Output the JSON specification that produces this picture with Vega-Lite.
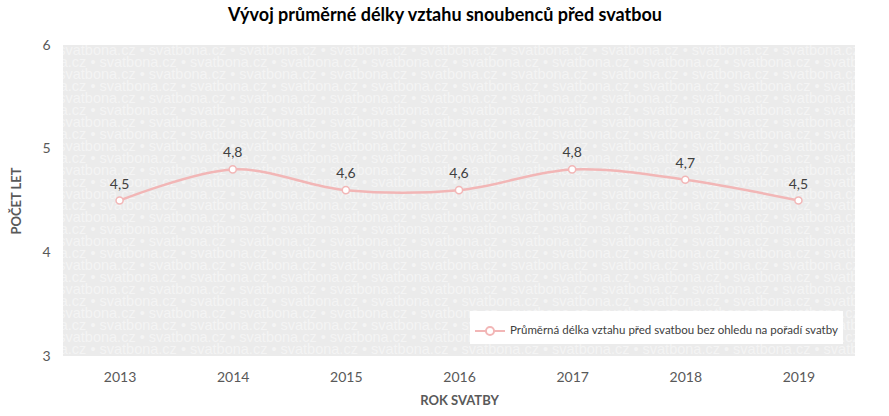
{
  "$schema": "https://vega.github.io/schema/vega-lite/v6.json",
  "width": 792,
  "height": 311,
  "autosize": {"type": "none"},
  "padding": {"left": 63, "top": 45, "right": 34, "bottom": 60},
  "background": "white",
  "config": {
    "font": "Lato",
    "view": {"stroke": null, "fill": "#ebebeb"},
    "locale": {"number": {"decimal": ",", "thousands": " ", "grouping": [3], "currency": ["", " Kč"]}}
  },
  "title": {
    "text": "Vývoj průměrné délky vztahu snoubenců před svatbou",
    "fontSize": 18,
    "fontWeight": "bold",
    "color": "#000000",
    "anchor": "middle",
    "offset": 13,
    "dx": -14
  },
  "datasets": {
    "wm": [
      {"row": 1, "t": "svatbona.cz • svatbona.cz • svatbona.cz • svatbona.cz • svatbona.cz • svatbona.cz • svatbona.cz • svatbona.cz • svatbona.cz • svatbona.cz • svatbona.cz"},
      {"row": 2, "t": "na.cz • svatbona.cz • svatbona.cz • svatbona.cz • svatbona.cz • svatbona.cz • svatbona.cz • svatbona.cz • svatbona.cz • svatbona.cz • svatbona.cz • svatbo"},
      {"row": 3, "t": "svatbona.cz • svatbona.cz • svatbona.cz • svatbona.cz • svatbona.cz • svatbona.cz • svatbona.cz • svatbona.cz • svatbona.cz • svatbona.cz • svatbona.cz"},
      {"row": 4, "t": "na.cz • svatbona.cz • svatbona.cz • svatbona.cz • svatbona.cz • svatbona.cz • svatbona.cz • svatbona.cz • svatbona.cz • svatbona.cz • svatbona.cz • svatbo"},
      {"row": 5, "t": "svatbona.cz • svatbona.cz • svatbona.cz • svatbona.cz • svatbona.cz • svatbona.cz • svatbona.cz • svatbona.cz • svatbona.cz • svatbona.cz • svatbona.cz"},
      {"row": 6, "t": "na.cz • svatbona.cz • svatbona.cz • svatbona.cz • svatbona.cz • svatbona.cz • svatbona.cz • svatbona.cz • svatbona.cz • svatbona.cz • svatbona.cz • svatbo"},
      {"row": 7, "t": "svatbona.cz • svatbona.cz • svatbona.cz • svatbona.cz • svatbona.cz • svatbona.cz • svatbona.cz • svatbona.cz • svatbona.cz • svatbona.cz • svatbona.cz"},
      {"row": 8, "t": "na.cz • svatbona.cz • svatbona.cz • svatbona.cz • svatbona.cz • svatbona.cz • svatbona.cz • svatbona.cz • svatbona.cz • svatbona.cz • svatbona.cz • svatbo"},
      {"row": 9, "t": "svatbona.cz • svatbona.cz • svatbona.cz • svatbona.cz • svatbona.cz • svatbona.cz • svatbona.cz • svatbona.cz • svatbona.cz • svatbona.cz • svatbona.cz"},
      {"row": 10, "t": "na.cz • svatbona.cz • svatbona.cz • svatbona.cz • svatbona.cz • svatbona.cz • svatbona.cz • svatbona.cz • svatbona.cz • svatbona.cz • svatbona.cz • svatbo"},
      {"row": 11, "t": "svatbona.cz • svatbona.cz • svatbona.cz • svatbona.cz • svatbona.cz • svatbona.cz • svatbona.cz • svatbona.cz • svatbona.cz • svatbona.cz • svatbona.cz"},
      {"row": 12, "t": "na.cz • svatbona.cz • svatbona.cz • svatbona.cz • svatbona.cz • svatbona.cz • svatbona.cz • svatbona.cz • svatbona.cz • svatbona.cz • svatbona.cz • svatbo"},
      {"row": 13, "t": "svatbona.cz • svatbona.cz • svatbona.cz • svatbona.cz • svatbona.cz • svatbona.cz • svatbona.cz • svatbona.cz • svatbona.cz • svatbona.cz • svatbona.cz"},
      {"row": 14, "t": "na.cz • svatbona.cz • svatbona.cz • svatbona.cz • svatbona.cz • svatbona.cz • svatbona.cz • svatbona.cz • svatbona.cz • svatbona.cz • svatbona.cz • svatbo"},
      {"row": 15, "t": "svatbona.cz • svatbona.cz • svatbona.cz • svatbona.cz • svatbona.cz • svatbona.cz • svatbona.cz • svatbona.cz • svatbona.cz • svatbona.cz • svatbona.cz"},
      {"row": 16, "t": "na.cz • svatbona.cz • svatbona.cz • svatbona.cz • svatbona.cz • svatbona.cz • svatbona.cz • svatbona.cz • svatbona.cz • svatbona.cz • svatbona.cz • svatbo"},
      {"row": 17, "t": "svatbona.cz • svatbona.cz • svatbona.cz • svatbona.cz • svatbona.cz • svatbona.cz • svatbona.cz • svatbona.cz • svatbona.cz • svatbona.cz • svatbona.cz"},
      {"row": 18, "t": "na.cz • svatbona.cz • svatbona.cz • svatbona.cz • svatbona.cz • svatbona.cz • svatbona.cz • svatbona.cz • svatbona.cz • svatbona.cz • svatbona.cz • svatbo"},
      {"row": 19, "t": "svatbona.cz • svatbona.cz • svatbona.cz • svatbona.cz • svatbona.cz • svatbona.cz • svatbona.cz • svatbona.cz • svatbona.cz • svatbona.cz • svatbona.cz"},
      {"row": 20, "t": "na.cz • svatbona.cz • svatbona.cz • svatbona.cz • svatbona.cz • svatbona.cz • svatbona.cz • svatbona.cz • svatbona.cz • svatbona.cz • svatbona.cz • svatbo"},
      {"row": 21, "t": "svatbona.cz • svatbona.cz • svatbona.cz • svatbona.cz • svatbona.cz • svatbona.cz • svatbona.cz • svatbona.cz • svatbona.cz • svatbona.cz • svatbona.cz"},
      {"row": 22, "t": "na.cz • svatbona.cz • svatbona.cz • svatbona.cz • svatbona.cz • svatbona.cz • svatbona.cz • svatbona.cz • svatbona.cz • svatbona.cz • svatbona.cz • svatbo"},
      {"row": 23, "t": "svatbona.cz • svatbona.cz • svatbona.cz • svatbona.cz • svatbona.cz • svatbona.cz • svatbona.cz • svatbona.cz • svatbona.cz • svatbona.cz • svatbona.cz"},
      {"row": 24, "t": "na.cz • svatbona.cz • svatbona.cz • svatbona.cz • svatbona.cz • svatbona.cz • svatbona.cz • svatbona.cz • svatbona.cz • svatbona.cz • svatbona.cz • svatbo"},
      {"row": 25, "t": "svatbona.cz • svatbona.cz • svatbona.cz • svatbona.cz • svatbona.cz • svatbona.cz • svatbona.cz • svatbona.cz • svatbona.cz • svatbona.cz • svatbona.cz"},
      {"row": 26, "t": "na.cz • svatbona.cz • svatbona.cz • svatbona.cz • svatbona.cz • svatbona.cz • svatbona.cz • svatbona.cz • svatbona.cz • svatbona.cz • svatbona.cz • svatbo"}
    ],
    "main": [
      {"rok": "2013", "let": 4.5, "serie": "Průměrná délka vztahu před svatbou bez ohledu na pořadí svatby"},
      {"rok": "2014", "let": 4.8, "serie": "Průměrná délka vztahu před svatbou bez ohledu na pořadí svatby"},
      {"rok": "2015", "let": 4.6, "serie": "Průměrná délka vztahu před svatbou bez ohledu na pořadí svatby"},
      {"rok": "2016", "let": 4.6, "serie": "Průměrná délka vztahu před svatbou bez ohledu na pořadí svatby"},
      {"rok": "2017", "let": 4.8, "serie": "Průměrná délka vztahu před svatbou bez ohledu na pořadí svatby"},
      {"rok": "2018", "let": 4.7, "serie": "Průměrná délka vztahu před svatbou bez ohledu na pořadí svatby"},
      {"rok": "2019", "let": 4.5, "serie": "Průměrná délka vztahu před svatbou bez ohledu na pořadí svatby"}
    ]
  },
  "resolve": {"scale": {"y": "independent"}},
  "layer": [
    {
      "data": {"name": "wm"},
      "mark": {"type": "text", "clip": true, "font": "Liberation Sans", "fontSize": 14.5, "color": "#f4f4f4", "align": "center", "baseline": "middle"},
      "encoding": {
        "y": {"field": "row", "type": "ordinal", "axis": null, "scale": {"paddingInner": 0, "paddingOuter": 0}},
        "text": {"field": "t"}
      }
    },
    {
      "data": {"name": "main"},
      "encoding": {
        "x": {
          "field": "rok",
          "type": "ordinal",
          "scale": {"type": "point", "padding": 0.5},
          "axis": {
            "title": "ROK SVATBY",
            "labelAngle": 0,
            "labelFontSize": 14,
            "labelColor": "#595959",
            "labelPadding": 14,
            "ticks": false,
            "domain": false,
            "grid": false,
            "titleFontSize": 13,
            "titleFontWeight": "bold",
            "titleColor": "#595959",
            "titlePadding": 10
          }
        },
        "y": {
          "field": "let",
          "type": "quantitative",
          "scale": {"domain": [3, 6], "nice": false, "zero": false},
          "axis": {
            "title": "POČET LET",
            "values": [3, 4, 5, 6],
            "format": "d",
            "labelFontSize": 14,
            "labelColor": "#595959",
            "labelPadding": 13,
            "ticks": false,
            "domain": false,
            "grid": false,
            "titleFontSize": 13,
            "titleFontWeight": "bold",
            "titleColor": "#595959",
            "titlePadding": 18
          }
        }
      },
      "layer": [
        {
          "mark": {"type": "line", "interpolate": "catmull-rom", "strokeWidth": 2.5},
          "encoding": {
            "color": {
              "field": "serie",
              "type": "nominal",
              "scale": {"range": ["#f2b6b6"]},
              "legend": {
                "title": null,
                "orient": "bottom-right",
                "offset": 12,
                "fillColor": "white",
                "padding": 4,
                "labelFontSize": 11.5,
                "labelColor": "#404040",
                "labelLimit": 500,
                "symbolType": "M-1,0H-0.27M0.27,0H1M0.27,0A0.27,0.27 0 1,1 -0.27,0A0.27,0.27 0 1,1 0.27,0Z",
                "symbolSize": 900,
                "symbolStrokeWidth": 2,
                "symbolStrokeColor": "#f2b6b6",
                "symbolFillColor": "white"
              }
            }
          }
        },
        {
          "mark": {"type": "point", "filled": true, "fill": "white", "stroke": "#f2b6b6", "strokeWidth": 1.5, "size": 50, "opacity": 1}
        },
        {
          "mark": {"type": "text", "fontSize": 14, "color": "#404040", "dy": -16},
          "encoding": {"text": {"field": "let", "type": "quantitative", "format": ".1f"}}
        }
      ]
    }
  ]
}
